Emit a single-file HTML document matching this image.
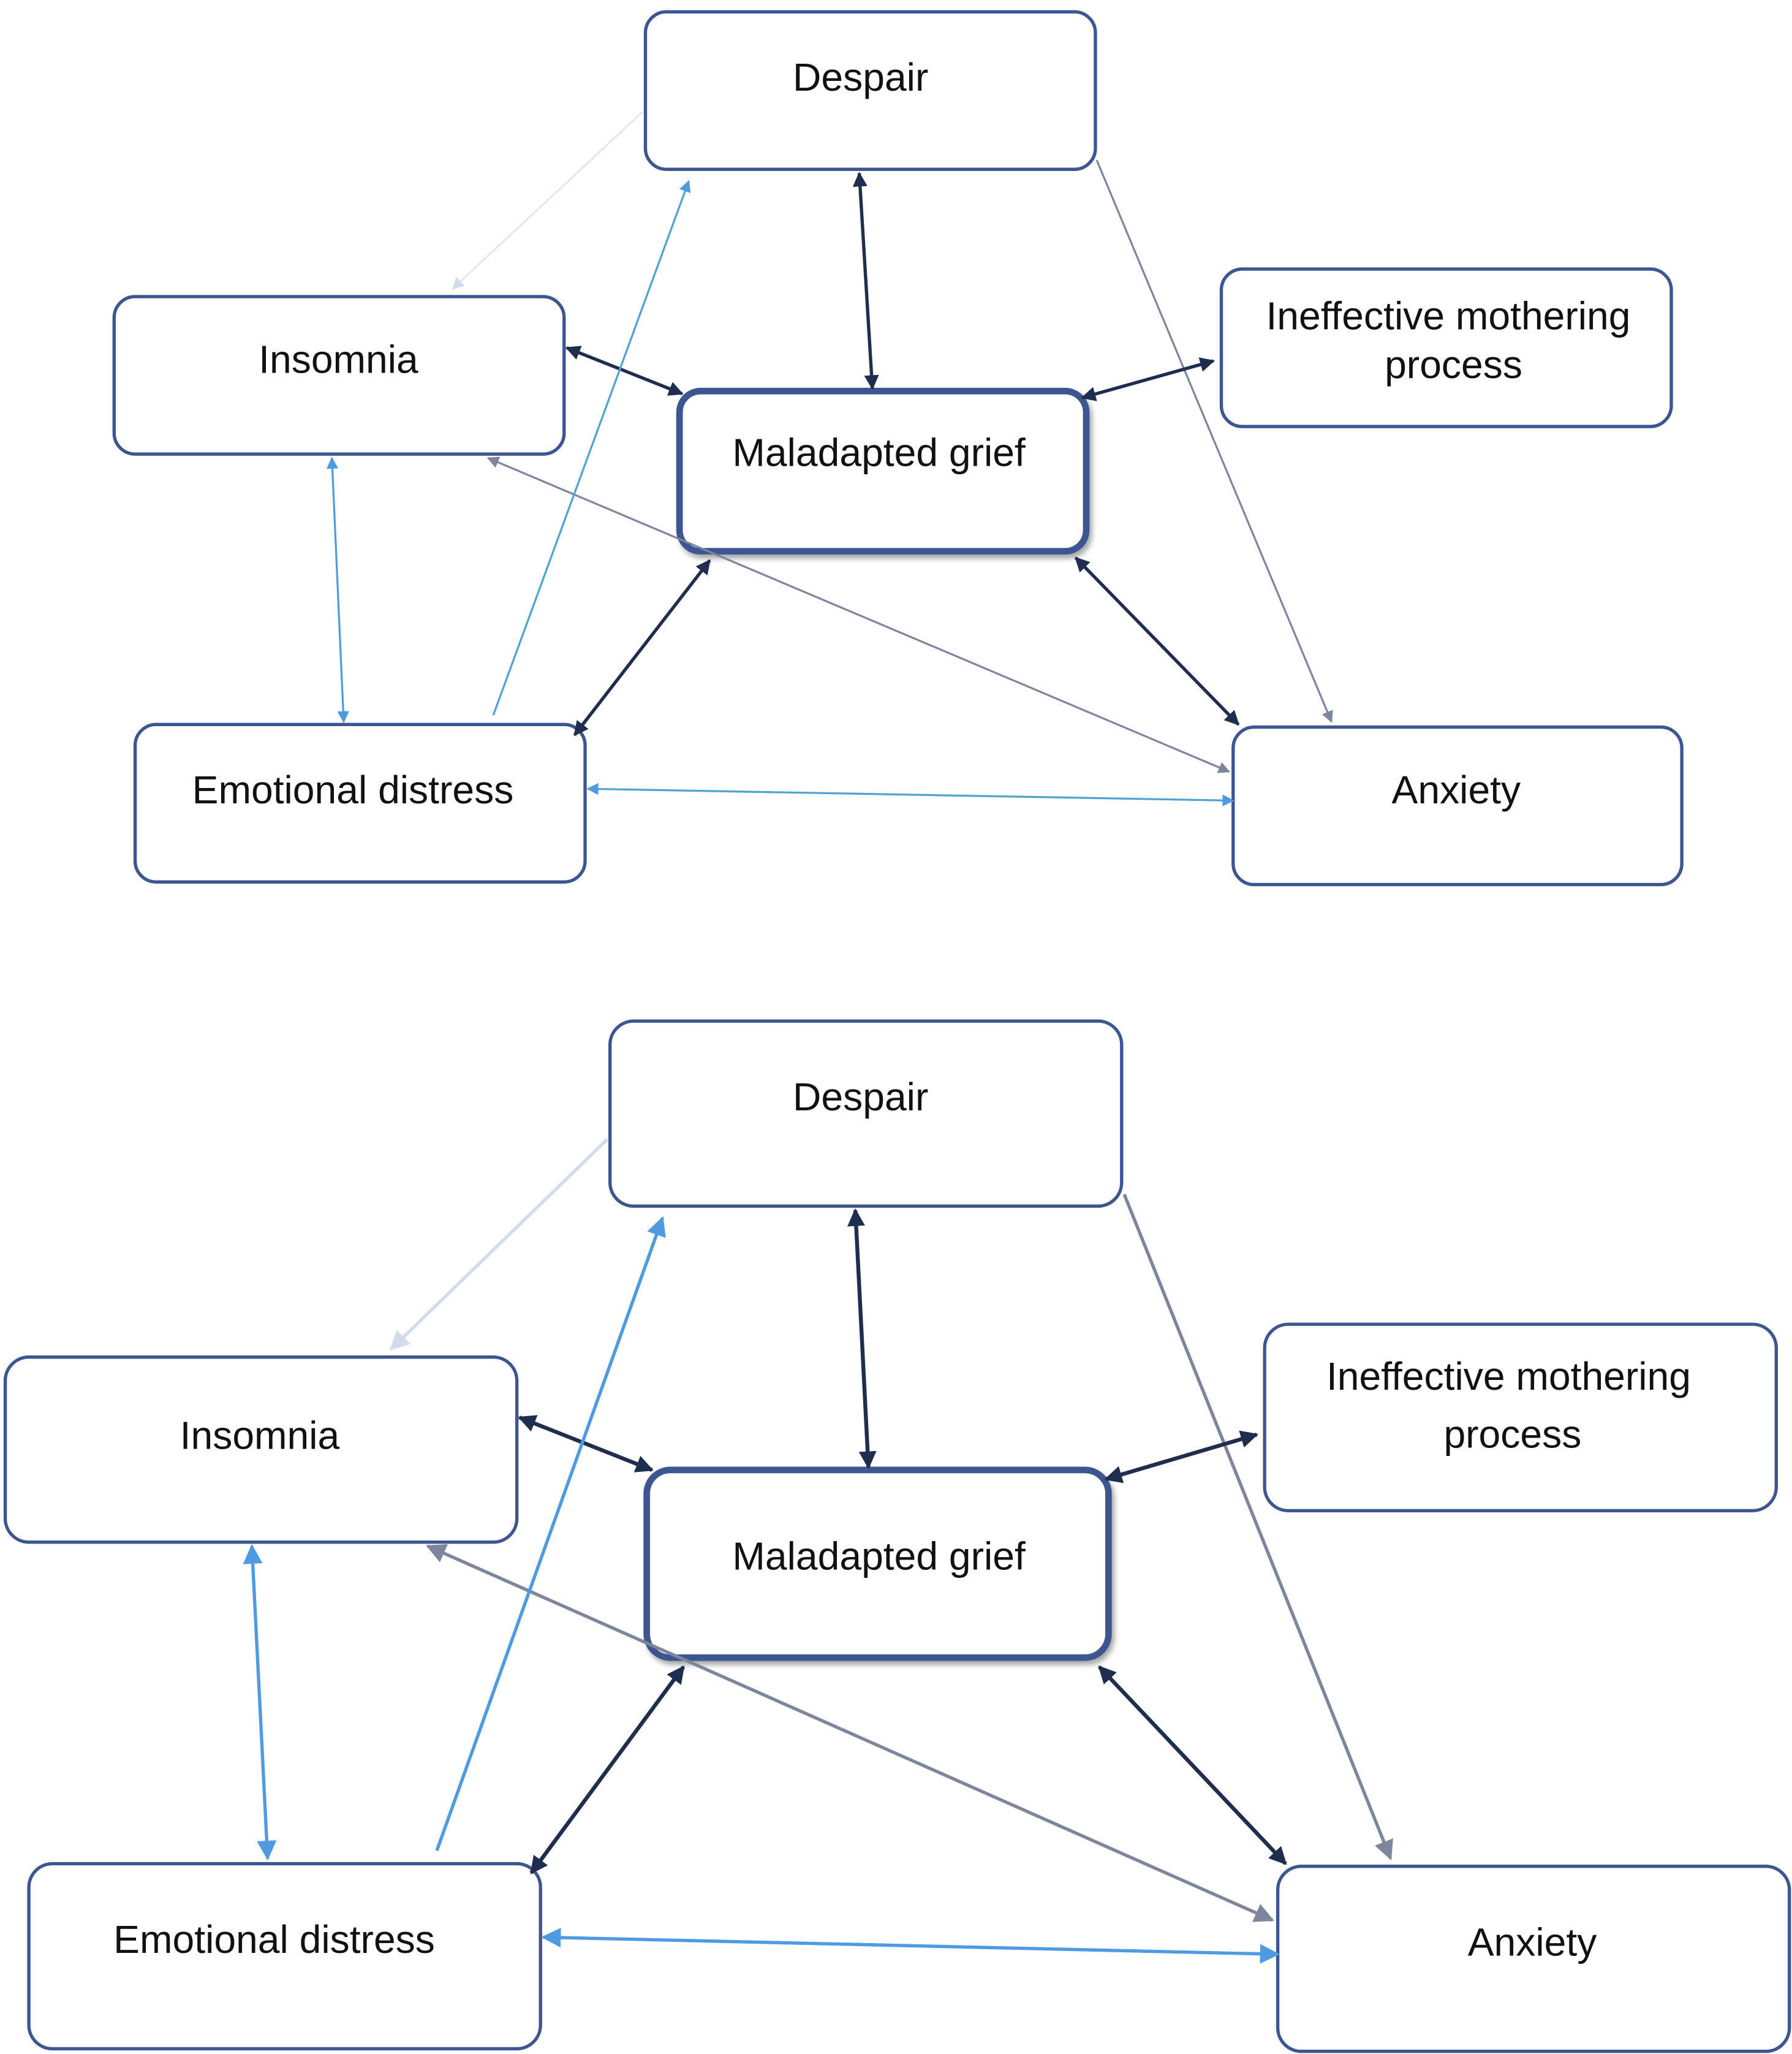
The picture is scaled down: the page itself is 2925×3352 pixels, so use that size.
<!DOCTYPE html>
<html><head><meta charset="utf-8"><style>
html,body{margin:0;padding:0;background:#fff;}
svg{display:block;}
text{font-family:"Liberation Sans",sans-serif;fill:#111;}
</style></head><body>
<svg width="2925" height="3352" viewBox="0 0 1366 1565" preserveAspectRatio="none" xmlns="http://www.w3.org/2000/svg">
<defs>
<marker id="dk" viewBox="0 0 10 10" refX="9" refY="5" markerWidth="4.5" markerHeight="4.5" orient="auto-start-reverse"><path d="M0,0L10,5L0,10z" fill="#1f2d4f"/></marker>
<marker id="gr" viewBox="0 0 10 10" refX="9" refY="5" markerWidth="6" markerHeight="6" orient="auto-start-reverse"><path d="M0,0L10,5L0,10z" fill="#7e869e"/></marker>
<marker id="lt" viewBox="0 0 10 10" refX="9" refY="5" markerWidth="6" markerHeight="6" orient="auto-start-reverse"><path d="M0,0L10,5L0,10z" fill="#d3dcec"/></marker>
<marker id="bl" viewBox="0 0 10 10" refX="9" refY="5" markerWidth="6" markerHeight="6" orient="auto-start-reverse"><path d="M0,0L10,5L0,10z" fill="#4f9ae0"/></marker>
<filter id="sh"><feDropShadow dx="2" dy="3" stdDeviation="2" flood-color="#000" flood-opacity="0.35"/></filter>
</defs>

<g fill="#fff" stroke="#3d5590" stroke-width="2.5">
<rect x="492" y="9" width="343" height="120" rx="16"/>
<rect x="87" y="226" width="343" height="120" rx="16"/>
<rect x="931" y="205" width="343" height="120" rx="16"/>
<rect x="103" y="552" width="343" height="120" rx="16"/>
<rect x="940" y="554" width="342" height="120" rx="16"/>
<rect x="518" y="298" width="310" height="122" rx="16" stroke-width="5" filter="url(#sh)"/>

<rect x="465" y="778" width="390" height="141" rx="18"/>
<rect x="4" y="1034" width="390" height="141" rx="18"/>
<rect x="964" y="1009" width="390" height="142" rx="18"/>
<rect x="22" y="1420" width="390" height="141" rx="18"/>
<rect x="974" y="1422" width="390" height="141" rx="18"/>
<rect x="493" y="1120" width="352" height="143" rx="18" stroke-width="5" filter="url(#sh)"/>
</g>

<g fill="none">
<!-- top -->
<line x1="490" y1="85" x2="345" y2="220" stroke="#e3e8f1" stroke-width="1.5" marker-end="url(#lt)"/>
<line x1="655" y1="132" x2="665" y2="296" stroke="#1f2d4f" stroke-width="2.5" marker-start="url(#dk)" marker-end="url(#dk)"/>
<line x1="836" y1="122" x2="1015" y2="550" stroke="#7e869e" stroke-width="1.5" marker-end="url(#gr)"/>
<line x1="432" y1="265" x2="520" y2="300" stroke="#1f2d4f" stroke-width="2.5" marker-start="url(#dk)" marker-end="url(#dk)"/>
<line x1="925" y1="275" x2="825" y2="303" stroke="#1f2d4f" stroke-width="2.5" marker-start="url(#dk)" marker-end="url(#dk)"/>
<line x1="372" y1="349" x2="937" y2="588" stroke="#7e869e" stroke-width="1.5" marker-start="url(#gr)" marker-end="url(#gr)"/>
<line x1="253" y1="349" x2="262" y2="550" stroke="#4f9ae0" stroke-width="1.5" marker-start="url(#bl)" marker-end="url(#bl)"/>
<line x1="376" y1="545" x2="525" y2="138" stroke="#4fa3d0" stroke-width="1.5" marker-end="url(#bl)"/>
<line x1="541" y1="427" x2="438" y2="560" stroke="#1f2d4f" stroke-width="2.5" marker-start="url(#dk)" marker-end="url(#dk)"/>
<line x1="820" y1="425" x2="944" y2="552" stroke="#1f2d4f" stroke-width="2.5" marker-start="url(#dk)" marker-end="url(#dk)"/>
<line x1="448" y1="601" x2="940" y2="610" stroke="#4fa3d0" stroke-width="1.5" marker-start="url(#bl)" marker-end="url(#bl)"/>
<!-- bottom -->
<line x1="463" y1="868" x2="298" y2="1028" stroke="#d3dcec" stroke-width="2.5" marker-end="url(#lt)"/>
<line x1="652" y1="922" x2="662" y2="1118" stroke="#1f2d4f" stroke-width="3" marker-start="url(#dk)" marker-end="url(#dk)"/>
<line x1="857" y1="910" x2="1060" y2="1416" stroke="#7e869e" stroke-width="2.5" marker-end="url(#gr)"/>
<line x1="396" y1="1080" x2="497" y2="1120" stroke="#1f2d4f" stroke-width="3" marker-start="url(#dk)" marker-end="url(#dk)"/>
<line x1="958" y1="1093" x2="843" y2="1127" stroke="#1f2d4f" stroke-width="3" marker-start="url(#dk)" marker-end="url(#dk)"/>
<line x1="326" y1="1178" x2="970" y2="1463" stroke="#7e869e" stroke-width="2.5" marker-start="url(#gr)" marker-end="url(#gr)"/>
<line x1="192" y1="1178" x2="204" y2="1416" stroke="#4f9ae0" stroke-width="2.5" marker-start="url(#bl)" marker-end="url(#bl)"/>
<line x1="333" y1="1410" x2="505" y2="928" stroke="#4f9ae0" stroke-width="2.5" marker-end="url(#bl)"/>
<line x1="521" y1="1270" x2="405" y2="1427" stroke="#1f2d4f" stroke-width="3" marker-start="url(#dk)" marker-end="url(#dk)"/>
<line x1="838" y1="1270" x2="980" y2="1420" stroke="#1f2d4f" stroke-width="3" marker-start="url(#dk)" marker-end="url(#dk)"/>
<line x1="414" y1="1476" x2="974" y2="1489" stroke="#4f9ae0" stroke-width="2.5" marker-start="url(#bl)" marker-end="url(#bl)"/>
</g>

<g font-size="30" text-anchor="middle">
<text x="656" y="69">Despair</text>
<text x="258" y="284">Insomnia</text>
<text x="1104" y="251">Ineffective mothering</text>
<text x="1108" y="288">process</text>
<text x="670" y="355">Maladapted grief</text>
<text x="269" y="612">Emotional distress</text>
<text x="1110" y="612">Anxiety</text>

<text x="656" y="846">Despair</text>
<text x="198" y="1104">Insomnia</text>
<text x="1150" y="1059">Ineffective mothering</text>
<text x="1153" y="1103">process</text>
<text x="670" y="1196">Maladapted grief</text>
<text x="209" y="1488">Emotional distress</text>
<text x="1168" y="1490">Anxiety</text>
</g>
</svg>
</body></html>
